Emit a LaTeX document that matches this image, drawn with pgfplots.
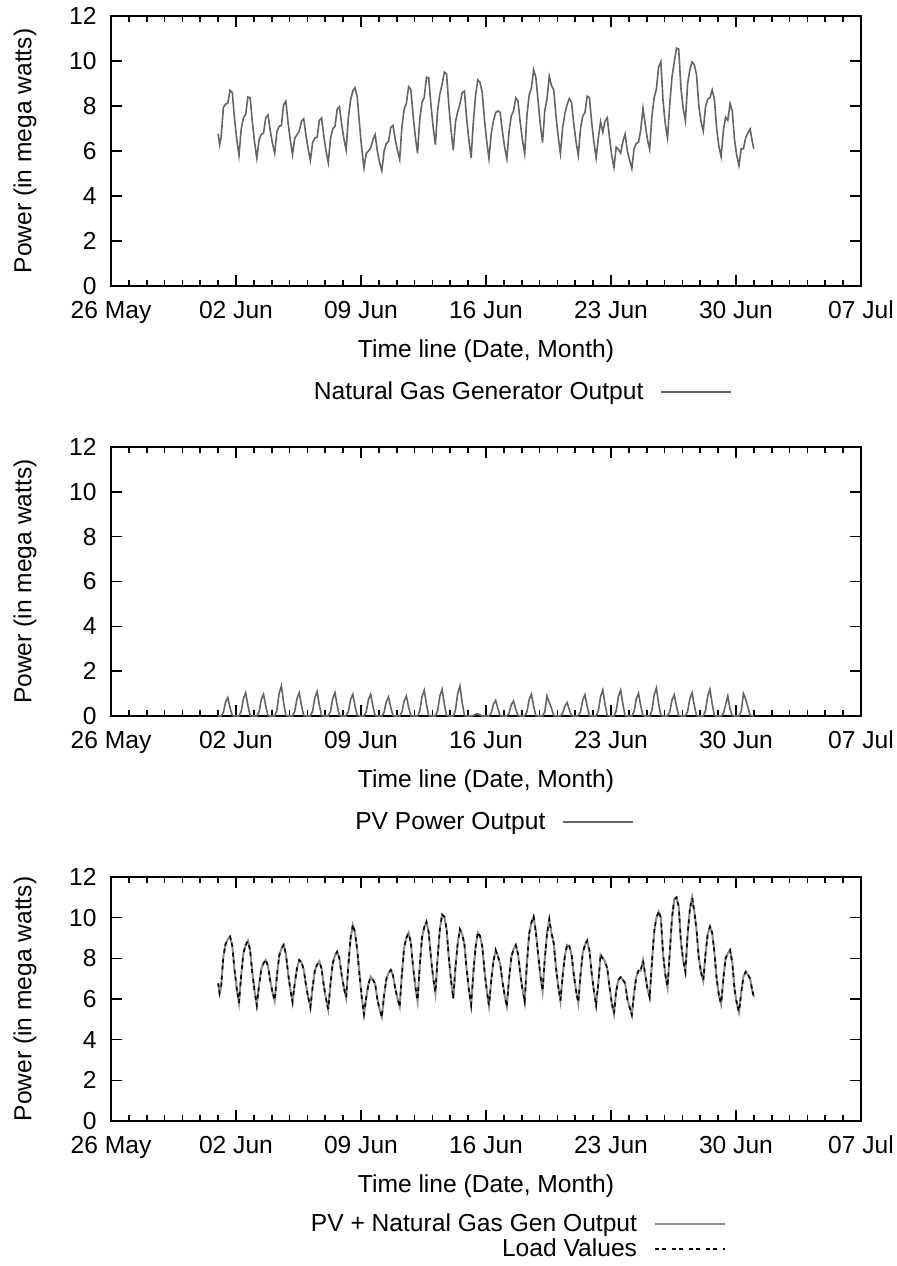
\documentclass[border=0pt]{standalone}
\usepackage{fontspec}
\setmainfont{Liberation Sans}
\usepackage{pgfplots}
\usepackage{pgfplotstable}
\pgfplotsset{compat=1.18}
\definecolor{nggray}{RGB}{100,100,100}
\definecolor{totgray}{RGB}{140,140,140}

% t = hours since 26 May 00:00 ; L = PV + gas (load) ; pv ; ng
\pgfplotstableread{
t L pv ng
144 6.77 0 6.77
146 6.28 0 6.28
148 6.60 0 6.60
151 8.10 0.16 7.94
154 8.70 0.62 8.08
157 8.95 0.82 8.13
160 9.07 0.37 8.70
163 8.62 0.02 8.60
166 7.44 0 7.44
169 6.52 0 6.52
172 5.80 0 5.80
175 7.18 0.21 6.97
178 8.26 0.78 7.48
181 8.66 1.04 7.62
184 8.87 0.47 8.40
187 8.39 0.02 8.37
190 7.28 0 7.28
193 6.38 0 6.38
196 5.68 0 5.68
199 6.69 0.19 6.50
202 7.47 0.73 6.74
205 7.76 0.97 6.79
208 7.92 0.44 7.48
211 7.62 0.02 7.60
214 6.91 0 6.91
217 6.34 0 6.34
220 5.90 0 5.90
223 7.14 0.27 6.87
226 8.11 1.01 7.10
229 8.47 1.34 7.13
232 8.66 0.60 8.06
235 8.24 0.03 8.21
238 7.26 0 7.26
241 6.47 0 6.47
244 5.85 0 5.85
247 6.78 0.21 6.57
250 7.51 0.78 6.73
253 7.92 1.04 6.88
256 7.80 0.47 7.33
259 7.45 0.02 7.43
262 6.70 0 6.70
265 6.09 0 6.09
268 5.58 0 5.58
271 6.60 0.22 6.38
274 7.40 0.82 6.58
277 7.69 1.09 6.60
280 7.85 0.49 7.36
283 7.49 0.02 7.47
286 6.67 0 6.67
289 6.00 0 6.00
292 5.48 0 5.48
295 6.76 0.21 6.55
298 7.76 0.78 6.98
301 8.13 1.04 7.09
304 8.33 0.47 7.86
307 7.99 0.02 7.97
310 7.19 0 7.19
313 6.55 0 6.55
316 6.05 0 6.05
319 7.67 0.19 7.48
322 9.00 0.73 8.27
325 9.64 0.97 8.67
328 9.25 0.44 8.81
331 8.40 0.02 8.38
334 7.20 0 7.20
337 6.10 0 6.10
340 5.25 0 5.25
343 6.08 0.19 5.89
346 6.73 0.73 6.00
349 7.10 0.97 6.13
352 6.95 0.44 6.51
355 6.75 0.02 6.73
358 6.00 0 6.00
361 5.49 0 5.49
364 5.12 0 5.12
367 6.16 0.17 5.99
370 6.97 0.64 6.33
373 7.27 0.85 6.42
376 7.43 0.38 7.05
379 7.16 0.02 7.14
382 6.53 0 6.53
385 6.03 0 6.03
388 5.63 0 5.63
391 7.26 0.18 7.08
394 8.53 0.67 7.86
397 9.01 0.89 8.12
400 9.26 0.40 8.86
403 8.76 0.02 8.74
406 7.58 0 7.58
409 6.64 0 6.64
412 5.90 0 5.90
415 7.66 0.23 7.43
418 9.02 0.86 8.16
421 9.53 1.15 8.38
424 9.80 0.52 9.28
427 9.27 0.02 9.25
430 8.04 0 8.04
433 7.05 0 7.05
436 6.28 0 6.28
439 8.05 0.24 7.81
442 9.43 0.89 8.54
445 10.15 1.19 8.96
448 10.05 0.54 9.51
451 9.45 0.02 9.43
454 8.04 0 8.04
457 6.92 0 6.92
460 6.04 0 6.04
463 7.57 0.27 7.30
466 8.75 1.01 7.74
469 9.43 1.34 8.09
472 9.20 0.60 8.60
475 8.68 0.02 8.66
478 7.45 0 7.45
481 6.47 0 6.47
484 5.70 0 5.70
487 7.30 0.02 7.28
490 8.55 0.08 8.47
493 9.26 0.10 9.16
496 9.10 0.05 9.05
499 8.58 0 8.58
502 7.38 0 7.38
505 6.42 0 6.42
508 5.66 0 5.66
511 6.90 0.14 6.76
514 7.86 0.53 7.33
517 8.41 0.70 7.71
520 8.10 0.32 7.78
523 7.73 0.01 7.72
526 6.88 0 6.88
529 6.19 0 6.19
532 5.65 0 5.65
535 7.00 0.13 6.87
538 8.06 0.50 7.56
541 8.45 0.67 7.78
544 8.66 0.30 8.36
547 8.24 0.02 8.22
550 7.27 0 7.27
553 6.49 0 6.49
556 5.88 0 5.88
559 7.76 0.19 7.57
562 9.22 0.73 8.49
565 9.76 0.97 8.79
568 10.05 0.44 9.61
571 9.30 0.02 9.28
574 8.22 0 8.22
577 7.19 0 7.19
580 6.38 0 6.38
583 7.97 0.18 7.79
586 9.21 0.89 8.32
589 9.92 0.60 9.32
592 9.25 0.35 8.90
595 8.75 0.02 8.73
598 7.58 0 7.58
601 6.64 0 6.64
604 5.90 0 5.90
607 7.14 0.12 7.02
610 8.11 0.45 7.66
613 8.66 0.60 8.06
616 8.60 0.27 8.33
619 8.18 0.02 8.16
622 7.20 0 7.20
625 6.42 0 6.42
628 5.80 0 5.80
631 7.18 0.19 6.99
634 8.26 0.71 7.55
637 8.66 0.95 7.71
640 8.87 0.43 8.44
643 8.39 0.02 8.37
646 7.29 0 7.29
649 6.40 0 6.40
652 5.70 0 5.70
655 6.81 0.23 6.58
658 8.17 0.87 7.30
661 8.00 1.16 6.84
664 7.85 0.52 7.33
667 7.50 0.02 7.48
670 6.60 0 6.60
673 5.80 0 5.80
676 5.27 0 5.27
679 6.40 0.23 6.17
682 6.94 0.87 6.07
685 7.07 1.16 5.91
688 6.95 0.52 6.43
691 6.77 0.02 6.75
694 6.00 0 6.00
697 5.60 0 5.60
700 5.22 0 5.22
703 6.30 0.20 6.10
706 7.10 0.76 6.34
709 7.40 1.01 6.39
712 7.40 0.45 6.95
715 7.92 0.02 7.90
718 7.20 0 7.20
721 6.50 0 6.50
724 6.08 0 6.08
727 7.80 0.25 7.55
730 9.30 0.94 8.36
733 10.00 1.25 8.75
736 10.30 0.56 9.74
739 10.00 0.03 9.97
742 8.20 0 8.20
745 7.20 0 7.20
748 6.58 0 6.58
751 8.30 0.19 8.11
754 10.00 0.71 9.29
757 10.90 0.95 9.95
760 11.00 0.43 10.57
763 10.55 0.02 10.53
766 8.80 0 8.80
769 7.90 0 7.90
772 7.34 0 7.34
775 9.20 0.21 8.99
778 10.40 0.78 9.62
781 11.00 1.04 9.96
784 10.30 0.47 9.83
787 9.40 0.02 9.38
790 8.00 0 8.00
793 7.30 0 7.30
796 6.89 0 6.89
799 8.20 0.24 7.96
802 9.20 0.89 8.31
805 9.56 1.19 8.37
808 9.25 0.54 8.71
811 8.30 0.02 8.28
814 7.00 0 7.00
817 6.20 0 6.20
820 5.75 0 5.75
823 7.00 0.10 6.90
826 8.00 0.50 7.50
829 8.25 0.89 7.36
832 8.41 0.30 8.11
835 7.80 0.02 7.78
838 6.50 0 6.50
841 5.80 0 5.80
844 5.35 0 5.35
847 6.30 0.20 6.10
850 7.10 1.00 6.10
853 7.34 0.75 6.59
856 7.20 0.40 6.80
859 7.00 0.02 6.98
862 6.40 0 6.40
864 6.10 0 6.10
}\datatab

\pgfplotsset{
  myaxis/.style={
    scale only axis, width=375pt,
    xmin=0, xmax=1008, ymin=0, ymax=12,
    xtick={0,168,...,1008},
    xticklabels={26 May,02 Jun,09 Jun,16 Jun,23 Jun,30 Jun,07 Jul},
    minor xtick={24,48,...,984},
    ytick={0,2,...,12},
    tick align=inside,
    tick pos=both, xticklabel pos=lower, yticklabel pos=left,
    major tick length=5.5pt, minor tick length=2.8pt,
    tick style={black, line width=0.8pt},
    axis line style={black, line width=0.8pt},
    font=\fontsize{12.3pt}{14pt}\selectfont,
    /pgf/number format/assume math mode=true,
    xticklabel style={anchor=base, inner sep=0pt, yshift=-16.3pt},
    yticklabel style={anchor=east, inner sep=0pt, xshift=-7pt},
    xlabel={Time line (Date, Month)},
    ylabel={Power (in mega watts)},
    every axis x label/.style={at={(axis description cs:0.5,0)}, anchor=base, yshift=-35.5pt},
    every axis y label/.style={at={(axis description cs:-0.1147,0.5)}, anchor=center, rotate=90},
    legend cell align=right, legend plot pos=right,
    legend image code/.code={\draw[##1] (0pt,0pt) -- (35pt,0pt);},
    legend style={draw=none, fill=none, inner sep=0pt, outer sep=0pt,
      column sep=8.5pt, row sep=2pt, nodes={inner sep=0pt},
      font=\fontsize{12.3pt}{14pt}\selectfont},
  }
}

\begin{document}
\begin{tikzpicture}
\useasboundingbox (0pt,0pt) rectangle (448.5pt,-633pt);

\begin{axis}[myaxis, height=135pt, at={(55.5pt,-143pt)}, anchor=south west,
  legend style={at={(axis description cs:0.828,0)}, anchor=east, yshift=-53pt}]
\addplot[nggray, line width=0.8pt] table[x=t, y=ng]{\datatab};
\addlegendentry{Natural Gas Generator Output}
\end{axis}

\begin{axis}[myaxis, height=134.5pt, at={(55.5pt,-358pt)}, anchor=south west,
  legend style={at={(axis description cs:0.6973,0)}, anchor=east, yshift=-53pt}]
\addplot[nggray, line width=0.8pt] table[x=t, y=pv]{\datatab};
\addlegendentry{PV Power Output}
\end{axis}

\begin{axis}[myaxis, height=122pt, at={(55.5pt,-560.5pt)}, anchor=south west,
  legend style={at={(axis description cs:0.82,0)}, anchor=north east, yshift=-46.5pt}]
\addplot[totgray, line width=1pt] table[x=t, y=L]{\datatab};
\addlegendentry{PV + Natural Gas Gen Output}
\addplot[black, line width=0.8pt, dash pattern=on 2pt off 1.5pt on 2pt off 3pt] table[x=t, y=L]{\datatab};
\addlegendentry{Load Values}
\end{axis}
\end{tikzpicture}
\end{document}
